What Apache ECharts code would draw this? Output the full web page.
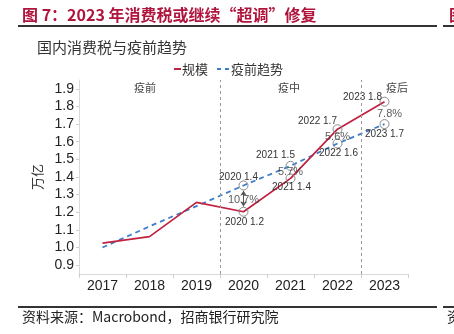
<!DOCTYPE html>
<html>
<head>
<meta charset="utf-8">
<script src="https://cdn.jsdelivr.net/npm/echarts@6/dist/echarts.min.js"></script>
<style>
html,body{margin:0;padding:0;background:#fff;}
#c{width:454px;height:334px;}
</style>
</head>
<body>
<div id="c"></div>
<script>
// ---- data ----
const years = ['2017', '2018', '2019', '2020', '2021', '2022', '2023'];
const scaleValues = [1.025, 1.062, 1.256, 1.203, 1.392, 1.671, 1.827];   // 规模
const trendValues = [1.00, 1.12, 1.235, 1.352, 1.463, 1.59, 1.70];       // 疫前趋势
const markedFrom = 3; // years from 2020 carry markers/labels
const gapLabels = ['10.7%', '5.7%', '5.6%', '7.8%'];
const yTickValues = [0.9, 1.0, 1.1, 1.2, 1.3, 1.4, 1.5, 1.6, 1.7, 1.8, 1.9];
const periodNames = ['疫前', '疫中', '疫后'];
const periodBreaks = [3, 6];

// ---- styles ----
const RED = '#C0213F';
const BLUE = '#3C7DCC';
const CRIMSON = '#B0143C';
const CJK = '"Noto Sans CJK SC", sans-serif';
const LAT = '"Liberation Sans", Arial, sans-serif';

const scaleOffsets = [[1, 11], [1, 9], [-20, -8], [-22, -4]];
const trendOffsets = [[-5, -8], [-15, -11], [1, 10], [0, 10]];
const gapOffsets = [[0, 1], [0, 0], [0, 1], [5, 1]];

function pointData(values, offsets) {
  return values.map((v, i) => {
    if (i < markedFrom) return { value: v, symbol: 'none', label: { show: false } };
    return {
      value: v,
      symbol: 'circle',
      label: {
        show: true,
        position: 'inside',
        offset: offsets[i - markedFrom],
        formatter: years[i] + ' ' + v.toFixed(1),
        color: '#333',
        fontSize: 10,
        fontFamily: LAT
      }
    };
  });
}

const gapData = gapLabels.map((t, k) => {
  const i = markedFrom + k;
  return {
    value: [years[i], (scaleValues[i] + trendValues[i]) / 2],
    label: { show: true, position: 'inside', offset: gapOffsets[k], formatter: t }
  };
});

const chart = echarts.init(document.getElementById('c'), null, { renderer: 'canvas' });
const option = {
  animation: false,
  backgroundColor: '#fff',
  grid: { left: 79, right: 46, top: 80, bottom: 60, containLabel: false },
  xAxis: [{
    type: 'category',
    data: years,
    boundaryGap: true,
    axisLine: { show: true, lineStyle: { color: '#d9d9d9', width: 1 } },
    axisTick: { show: true, length: 4, lineStyle: { color: '#cfcfcf' } },
    axisLabel: { color: '#222', fontSize: 14, fontFamily: LAT, margin: 5 },
    splitLine: { show: false }
  }, {
    type: 'value', min: 0, max: 7, show: false
  }],
  yAxis: {
    type: 'value',
    min: 0.85,
    max: 1.95,
    name: '万亿',
    nameLocation: 'middle',
    nameRotate: 90,
    nameGap: 34,
    nameTextStyle: { color: '#333', fontSize: 13, fontFamily: CJK },
    axisLine: { show: true, lineStyle: { color: '#d9d9d9', width: 1 } },
    axisTick: { show: true, length: 3, customValues: yTickValues, lineStyle: { color: '#d0d0d0' } },
    axisLabel: {
      customValues: yTickValues,
      color: '#222', fontSize: 14, fontFamily: LAT, margin: 5,
      formatter: v => v.toFixed(1)
    },
    splitLine: { show: false }
  },
  series: [
    {
      name: 'breaks',
      type: 'line',
      xAxisIndex: 1,
      data: [],
      silent: true,
      markLine: {
        silent: true,
        symbol: ['none', 'none'],
        label: { show: false },
        lineStyle: { color: '#999', type: [3, 3], width: 1 },
        data: periodBreaks.map(b => ({ xAxis: b }))
      }
    },
    {
      name: '疫前趋势',
      type: 'line',
      data: pointData(trendValues, trendOffsets),
      symbolSize: 9,
      itemStyle: { color: 'transparent', borderColor: '#8a8a8a', borderWidth: 1 },
      lineStyle: { color: BLUE, width: 1.8, type: [5, 4] },
      z: 3
    },
    {
      name: '规模',
      type: 'line',
      data: pointData(scaleValues, scaleOffsets),
      symbolSize: 9,
      itemStyle: { color: 'transparent', borderColor: '#8a8a8a', borderWidth: 1 },
      lineStyle: { color: RED, width: 1.7 },
      z: 4
    },
    {
      name: 'gap',
      type: 'scatter',
      data: gapData,
      symbolSize: 0,
      itemStyle: { color: 'transparent' },
      label: { color: '#333', fontSize: 11, fontFamily: LAT },
      z: 5,
      markLine: {
        silent: true,
        symbol: ['arrow', 'arrow'],
        symbolSize: 5,
        label: { show: false },
        lineStyle: { color: '#555', width: 1, type: 'solid' },
        data: [[
          { coord: [years[3], trendValues[3] - 0.03] },
          { coord: [years[3], scaleValues[3] + 0.03] }
        ]]
      }
    }
  ],
  graphic: [
    { type: 'text', x: 22, y: 15, style: { text: '图 7：2023 年消费税或继续“超调”修复', fill: CRIMSON, font: 'bold 16px ' + CJK, verticalAlign: 'middle' } },
    { type: 'line', shape: { x1: 18, y1: 26, x2: 437, y2: 26 }, style: { stroke: '#333', lineWidth: 2 } },
    { type: 'line', shape: { x1: 443, y1: 26, x2: 454, y2: 26 }, style: { stroke: '#333', lineWidth: 2 } },
    { type: 'text', x: 449, y: 15, style: { text: '图', fill: CRIMSON, font: 'bold 16px ' + CJK, verticalAlign: 'middle' } },
    { type: 'text', x: 37, y: 47, style: { text: '国内消费税与疫前趋势', fill: '#333', font: '15px ' + CJK, verticalAlign: 'middle' } },
    // legend
    { type: 'line', shape: { x1: 174, y1: 69, x2: 181, y2: 69 }, style: { stroke: RED, lineWidth: 2 } },
    { type: 'text', x: 182, y: 69, style: { text: '规模', fill: '#333', font: '13px ' + CJK, verticalAlign: 'middle' } },
    { type: 'line', shape: { x1: 217, y1: 69, x2: 230, y2: 69 }, style: { stroke: BLUE, lineWidth: 2, lineDash: [4, 4] } },
    { type: 'text', x: 231, y: 69, style: { text: '疫前趋势', fill: '#333', font: '13px ' + CJK, verticalAlign: 'middle' } },
    // period labels
    { type: 'text', x: 145, y: 88, style: { text: periodNames[0], fill: '#444', font: '11px ' + CJK, align: 'center', verticalAlign: 'middle' } },
    { type: 'text', x: 289, y: 88, style: { text: periodNames[1], fill: '#444', font: '11px ' + CJK, align: 'center', verticalAlign: 'middle' } },
    { type: 'text', x: 397, y: 88, style: { text: periodNames[2], fill: '#444', font: '11px ' + CJK, align: 'center', verticalAlign: 'middle' } },
    // footer
    { type: 'line', shape: { x1: 18, y1: 307, x2: 437, y2: 307 }, style: { stroke: '#333', lineWidth: 2 } },
    { type: 'line', shape: { x1: 443, y1: 307, x2: 454, y2: 307 }, style: { stroke: '#333', lineWidth: 2 } },
    { type: 'text', x: 22, y: 317, style: { text: '资料来源：Macrobond，招商银行研究院', fill: '#222', font: '14px ' + CJK, verticalAlign: 'middle' } },
    { type: 'text', x: 447, y: 317, style: { text: '资', fill: '#222', font: '14px ' + CJK, verticalAlign: 'middle' } }
  ]
};
chart.setOption(option);
</script>
</body>
</html>
